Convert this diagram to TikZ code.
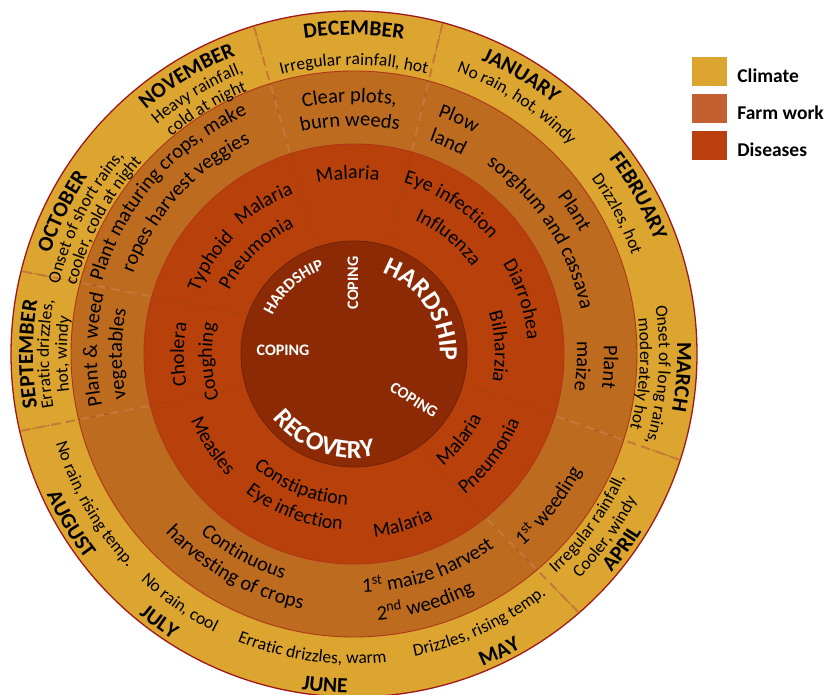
\documentclass[tikz,border=0pt]{standalone}
\usepackage{fontspec}
\setmainfont{Carlito}
\usetikzlibrary{positioning}
\usetikzlibrary{calc}
\usetikzlibrary{decorations.text}

\definecolor{climc}{HTML}{DBA52F}
\definecolor{farmc}{HTML}{BD6B1F}
\definecolor{disc}{HTML}{B8410B}
\definecolor{corec}{HTML}{8C2A06}
\definecolor{farmkey}{HTML}{C45F30}
\definecolor{diskey}{HTML}{BA4010}
\definecolor{edgec}{HTML}{B0361A}
\definecolor{rimc}{HTML}{A01818}
\definecolor{divc}{HTML}{C8773A}

\newcommand{\monthf}{\fontsize{21.5}{21.5}\selectfont\bfseries}
\newcommand{\climf}{\fontsize{17.5}{17.5}\selectfont}
\newcommand{\farmf}{\fontsize{20.5}{20.5}\selectfont}
\newcommand{\disf}{\fontsize{20}{20}\selectfont}
\newcommand{\coref}{\color{white}\fontsize{16.5}{16.5}\selectfont\bfseries}
\newcommand{\bigcoref}{\color{white}\fontsize{26}{26}\selectfont\bfseries}

% curved labels: radius, centre angle, format, text
\newcommand{\arctop}[4]{\path [decorate, decoration={text along path, text align=center, text={|#3|#4}}]
  ({#2+80}:#1) arc [start angle={#2+80}, end angle={#2-80}, radius=#1];}
\newcommand{\arcbot}[4]{\path [decorate, decoration={text along path, text align=center, text={|#3|#4}}]
  ({#2-80}:#1) arc [start angle={#2-80}, end angle={#2+80}, radius=#1];}

\begin{document}
\begin{tikzpicture}[x=1pt, y=1pt]
 \path [use as bounding box, fill=white] (-354,-341) rectangle (478,354);

 \tikzstyle{ringedge} = [draw=edgec, line width=0.9pt];
 \tikzstyle{divline} = [divc, line width=2pt, dash pattern=on 9pt off 6pt];
 \tikzstyle{faintdiv} = [divc!60!black, line width=0.6pt, dash pattern=on 6pt off 6pt, opacity=0.6];

 % rings
 \fill [climc] (0,0) circle [radius=343];
 \fill [farmc] (0,0) circle [radius=283];
 \fill [disc] (0,0) circle [radius=210];
 \fill [corec] (0,0) circle [radius=113];

 % month dividers
 \foreach \ao/\ai in {166/160, 193/197, 107/109, 75/72, -18/-15, -49/-56} {
   \draw [faintdiv] (\ao:343) -- (\ai:113);
   \draw [divline] (\ao:341) -- ($(\ao:343)!0.58!(\ai:113)$);
 }

 \draw [ringedge] (0,0) circle [radius=283];
 \draw [ringedge] (0,0) circle [radius=210];
 \draw [draw=corec!80!black, line width=0.8pt] (0,0) circle [radius=113];
 \draw [draw=rimc, line width=1.3pt] (0,0) circle [radius=343];

 % climate
 \arctop{319}{90}{\monthf}{DECEMBER}
 \arctop{289}{90}{\climf}{Irregular rainfall, hot}
 \arctop{320}{59}{\monthf}{JANUARY}
 \arctop{300}{57}{\climf}{No rain, hot, windy}
 \arctop{321}{29}{\monthf}{FEBRUARY}
 \arctop{295}{28}{\climf}{Drizzles, hot}
 \arctop{323}{-4}{\monthf}{MARCH}
 \arctop{305}{-4}{\climf}{Onset of long rains,}
 \arctop{286}{-4}{\climf}{moderately hot}
 \arcbot{338}{-36}{\monthf}{APRIL}
 \arcbot{318}{-36}{\climf}{Cooler, windy}
 \arcbot{298}{-36}{\climf}{Irregular rainfall,}
 \arcbot{338}{-64}{\monthf}{MAY}
 \arcbot{308}{-65}{\climf}{Drizzles, rising temp.}
 \arcbot{339}{-95}{\monthf}{JUNE}
 \arcbot{310}{-98}{\climf}{Erratic drizzles, warm}
 \arcbot{338}{-126}{\monthf}{JULY}
 \arcbot{311}{-125}{\climf}{No rain, cool}
 \arcbot{338}{-149}{\monthf}{AUGUST}
 \arcbot{311}{-150}{\climf}{No rain, rising temp.}
 \arctop{321}{180}{\monthf}{SEPTEMBER}
 \arctop{305}{180}{\climf}{Erratic drizzles,}
 \arctop{287}{180}{\climf}{hot, windy}
 \arctop{320}{154}{\monthf}{OCTOBER}
 \arctop{303}{153}{\climf}{Onset of short rains,}
 \arctop{286}{152}{\climf}{cooler, cold at night}
 \arctop{321}{121}{\monthf}{NOVEMBER}
 \arctop{302}{121}{\climf}{Heavy rainfall,}
 \arctop{284}{121}{\climf}{cold at night}

 % farm work
 \arctop{252}{91}{\farmf}{Clear plots,}
 \arctop{228}{91}{\farmf}{burn weeds}
 \arctop{252}{66}{\farmf}{Plow}
 \arctop{226}{66}{\farmf}{land}
 \arctop{257}{33}{\farmf}{Plant}
 \arctop{231}{33}{\farmf}{sorghum and cassava}
 \arctop{250}{-3}{\farmf}{Plant}
 \arctop{223}{-3}{\farmf}{maize}
 \arcbot{256}{-38}{\farmf}{1{\textsuperscript{st}} weeding}
 \arcbot{239}{-71}{\farmf}{1{\textsuperscript{st}} maize harvest}
 \arcbot{267}{-74}{\farmf}{2{\textsuperscript{nd}} weeding}
 \arcbot{236}{-119}{\farmf}{Continuous}
 \arcbot{260}{-119}{\farmf}{harvesting of crops}
 \arctop{257}{179}{\farmf}{Plant {\&} weed}
 \arctop{232}{180}{\farmf}{vegetables}
 \arctop{262}{139}{\farmf}{Plant maturing crops, make}
 \arctop{235}{138}{\farmf}{ropes harvest veggies}

 % diseases
 \arctop{175}{92}{\disf}{Malaria}
 \arctop{178}{57}{\disf}{Eye infection}
 \arctop{147}{51}{\disf}{Influenza}
 \arctop{174}{18}{\disf}{Diarrohea}
 \arctop{141}{3}{\disf}{Bilharzia}
 \arcbot{143}{-39}{\disf}{Malaria}
 \arcbot{179}{-37}{\disf}{Pneumonia}
 \arcbot{184}{-74}{\disf}{Malaria}
 \arcbot{151}{-112}{\disf}{Constipation}
 \arcbot{176}{-111}{\disf}{Eye infection}
 \arcbot{176}{-147}{\disf}{Measles}
 \arctop{170}{180}{\disf}{Cholera}
 \arctop{142}{183}{\disf}{Coughing}
 \arctop{167}{147}{\disf}{Typhoid}
 \arctop{171}{121}{\disf}{Malaria}
 \arctop{140}{134}{\disf}{Pneumonia}

 % core
 \tikzstyle{coretxt} = [text=white, font=\fontsize{16}{16}\selectfont\bfseries, inner sep=0pt];
 \arctop{90}{132}{\coref}{HARDSHIP}
 \arctop{86}{33}{\bigcoref}{HARDSHIP}
 \arcbot{104}{-110}{\bigcoref}{RECOVERY}
 \node (copingtop) [coretxt, rotate=90] at (-1,71) {COPING};
 \node (copingleft) [coretxt] at (-71,4) {COPING};
 \node (copingright) [coretxt, rotate=-32] at (60,-46) {COPING};

 % legend
 \tikzstyle{swatch} = [minimum width=35pt, minimum height=29pt, inner sep=0pt];
 \tikzstyle{keytxt} = [font=\fontsize{19.5}{20}\selectfont\bfseries, inner sep=0pt, yshift=-4pt];
 \node (climbox) [swatch, fill=climc] at (355.5,282) {};
 \node (farmbox) [swatch, fill=farmkey, below=7.5pt of climbox] {};
 \node (disbox) [swatch, fill=diskey, below=7.5pt of farmbox] {};
 \node (climlbl) [keytxt, right=10pt of climbox] {Climate};
 \node (farmlbl) [keytxt, right=10pt of farmbox] {Farm work};
 \node (dislbl) [keytxt, right=10pt of disbox] {Diseases};
\end{tikzpicture}
\end{document}
